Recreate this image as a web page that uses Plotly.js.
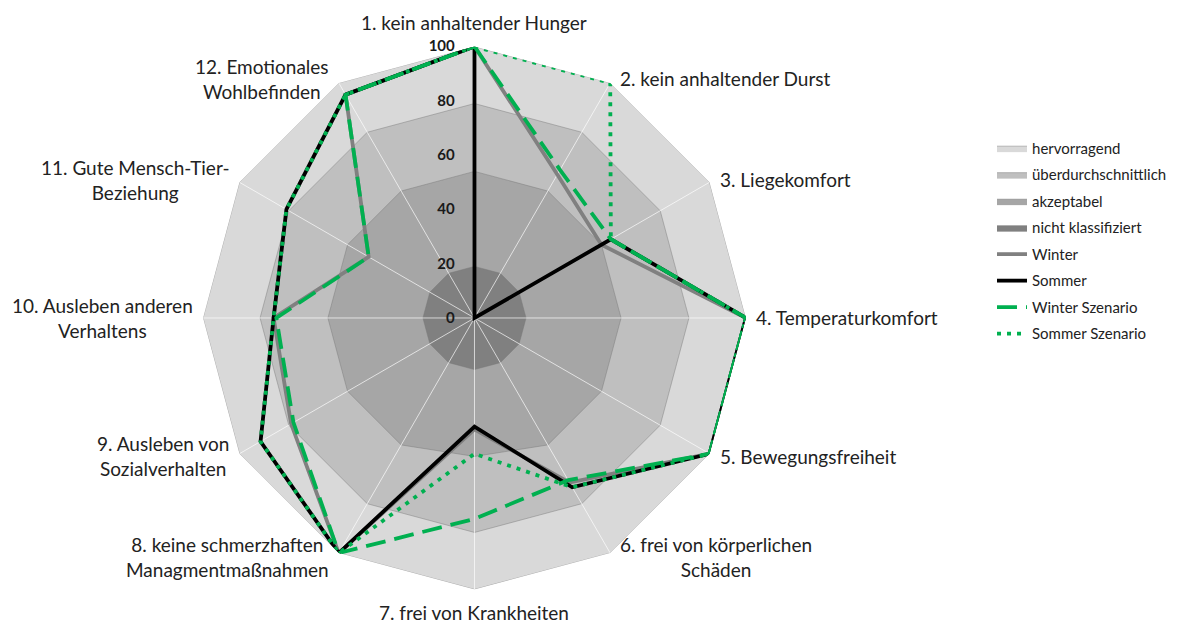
<!DOCTYPE html>
<html><head><meta charset="utf-8">
<script src="https://cdn.plot.ly/plotly-3.0.1.min.js"></script>
<style>html,body{margin:0;padding:0;background:#fff;} #chart{width:1179px;height:628px;}</style>
</head><body><div id="chart"></div>
<script>
// Criteria (angular categories, clockwise from top)
const categories = [
  "1. kein anhaltender Hunger",
  "2. kein anhaltender Durst",
  "3. Liegekomfort",
  "4. Temperaturkomfort",
  "5. Bewegungsfreiheit",
  "6. frei von körperlichen<br>Schäden",
  "7. frei von Krankheiten",
  "8. keine schmerzhaften<br>Managmentmaßnahmen",
  "9. Ausleben von<br>Sozialverhalten",
  "10. Ausleben anderen<br>Verhaltens",
  "11. Gute Mensch-Tier-<br>Beziehung",
  "12. Emotionales<br>Wohlbefinden"
];
const radialTicks = [0, 20, 40, 60, 80, 100];

// Classification bands (upper limits per criterion)
const bandHervorragend       = [100,100,100,100,100,100,100,100,100,100,100,100];
const bandUeberdurchschnitt  = [79,79,79,79,79,79,79,79,79,79,79,79];
const bandAkzeptabel         = [54,54,54,54,54,54,51,54,54,54,54,54];
const bandNichtKlassifiziert = [19,19,19,19,19,19,19,19,19,19,19,19];

// Scores
const winter         = [100, 61, 54, 100, 100, 70, 41, 100, 78, 74, 45, 95];
const sommer         = [100,  0, 58, 100, 100, 72, 40, 100, 91, 74, 80, 95];
const winterSzenario = [100, 63, 58, 100, 100, 69, 74, 100, 77, 73, 45, 95];
const sommerSzenario = [100,100, 58, 100, 100, 72, 50, 100, 91, 74, 80, 95];

const close = a => a.concat([a[0]]);
const thetaClosed = close(categories);

function band(name, vals, color) {
  return {type:'scatterpolar', name:name, legendgroup:name, r:close(vals), theta:thetaClosed,
    mode:'lines', fill:'toself', fillcolor:color,
    line:{color:'rgba(120,120,120,0.55)', width:0.8}, hoverinfo:'skip'};
}
function series(name, vals, color, dash) {
  return {type:'scatterpolar', name:name, legendgroup:name, r:close(vals), theta:thetaClosed,
    mode:'lines', line:{color:color, width:3.8, dash:dash}};
}

// spokes built from the categories
const spokeR = [], spokeT = [];
categories.forEach(c => { spokeR.push(0, 100, null); spokeT.push(c, c, c); });

const traces = [
  band('hervorragend', bandHervorragend, '#d9d9d9'),
  band('überdurchschnittlich', bandUeberdurchschnitt, '#bfbfbf'),
  band('akzeptabel', bandAkzeptabel, '#a6a6a6'),
  band('nicht klassifiziert', bandNichtKlassifiziert, '#808080'),
  {type:'scatterpolar', r:spokeR, theta:spokeT, mode:'lines', showlegend:false,
   line:{color:'rgba(255,255,255,0.85)', width:0.8}, hoverinfo:'skip', connectgaps:false},
  series('Winter', winter, '#808080', 'solid'),
  series('Sommer', sommer, '#000000', 'solid'),
  series('Winter Szenario', winterSzenario, '#00b050', '20px,9px'),
  series('Sommer Szenario', sommerSzenario, '#00b050', '4px,6px')
];

// polar domain (paper fractions)
const W = 1179, H = 628;
const domX = [0.1722, 0.6327], domY = [0.0613, 0.926];

// category labels placed outside each vertex of the polar frame
const cx = (domX[0] + domX[1]) / 2 * W;
const cy = H - (domY[0] + domY[1]) / 2 * H;
const R = (domX[1] - domX[0]) * W / 2;
const annotations = categories.map((c, i) => {
  const a = i * 2 * Math.PI / categories.length;
  const s = Math.sin(a), co = Math.cos(a);
  const vx = cx + R * s, vy = cy - R * co;
  let x, y, xanchor, yanchor;
  if (Math.abs(s) > 0.1) {
    xanchor = s > 0 ? 'left' : 'right';
    yanchor = 'middle';
    x = vx + (s > 0 ? 8 : -8);
    y = vy - co * 5;
  } else {
    xanchor = 'center';
    yanchor = co > 0 ? 'bottom' : 'top';
    x = vx;
    y = vy + (co > 0 ? -11 : 10);
  }
  return {text:c, xref:'paper', yref:'paper', x:x / W, y:1 - y / H,
    xanchor:xanchor, yanchor:yanchor, align:'center', showarrow:false,
    font:{size:19, color:'#222222'}};
});

const layout = {
  width:W, height:H, margin:{l:0,r:0,t:0,b:0},
  paper_bgcolor:'#ffffff',
  font:{family:'Lato, "Open Sans", sans-serif', size:17, color:'#222222'},
  showlegend:true,
  polar:{
    domain:{x:domX, y:domY},
    gridshape:'linear',
    bgcolor:'rgba(0,0,0,0)',
    angularaxis:{type:'category', categoryorder:'array', categoryarray:categories,
      direction:'clockwise', rotation:90, showgrid:false, showline:false,
      ticks:'', showticklabels:false},
    radialaxis:{range:[0,100], angle:90, tickangle:90, tickvals:radialTicks, showline:false, showgrid:false,
      ticks:'outside', ticklen:14, tickcolor:'rgba(0,0,0,0)', side:'counterclockwise',
      tickfont:{size:15, color:'#1a1a1a', weight:'bold'}}
  },
  annotations:annotations,
  legend:{x:0.8414, y:0.79, xanchor:'left', yanchor:'top', itemwidth:30,
    tracegroupgap:4, traceorder:'grouped',
    font:{size:15, color:'#222222'}, bgcolor:'rgba(0,0,0,0)'}
};

Plotly.newPlot('chart', traces, layout, {displayModeBar:false, staticPlot:true});
</script>
</body></html>
